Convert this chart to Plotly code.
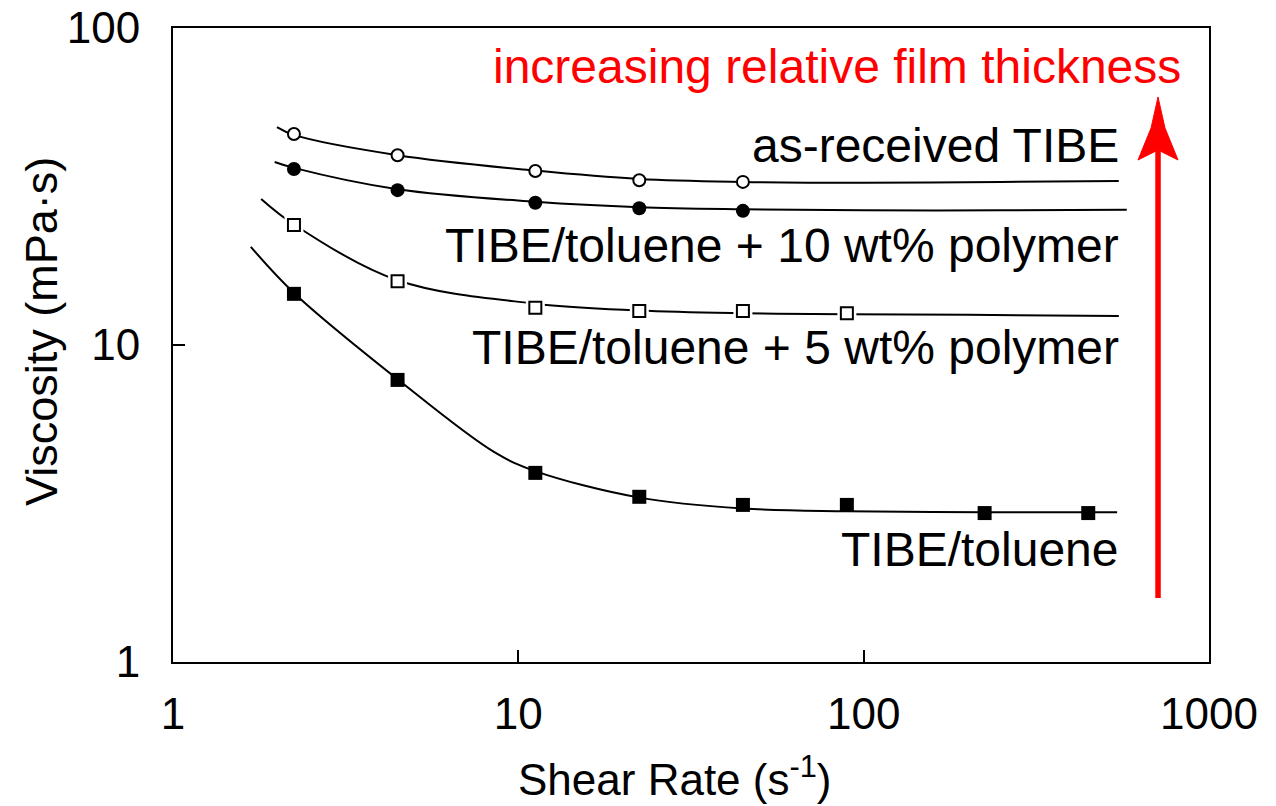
import plotly.graph_objects as go

# Shear rates (s^-1) of the measured points
shear_rate = [2.24, 4.47, 11.2, 22.4, 44.7, 89.4, 224, 447]

# Measured viscosities (mPa·s)
visc_as_received = [46.3, 39.7, 35.4, 33.1, 32.7]
visc_10wt = [35.9, 30.8, 28.1, 27.0, 26.5]
visc_5wt = [23.9, 15.9, 13.1, 12.8, 12.8, 12.6]
visc_toluene = [14.5, 7.76, 3.95, 3.32, 3.13, 3.13, 2.95, 2.95]

# Fitted curves (shear rate, viscosity)
fit_as_received_x = [2.0, 2.24, 4.47, 11.2, 22.4, 44.7, 100, 250, 548]
fit_as_received_y = [48.7, 46.0, 39.7, 35.5, 33.4, 32.7, 32.5, 32.7, 32.9]
fit_10wt_x = [1.97, 2.24, 4.47, 11.2, 22.4, 44.7, 100, 250, 578]
fit_10wt_y = [37.8, 36.2, 31.0, 28.3, 27.2, 26.8, 26.6, 26.6, 26.7]
fit_5wt_x = [1.80, 2.24, 4.47, 11.2, 22.4, 44.7, 89.4, 200, 548]
fit_5wt_y = [28.9, 24.0, 16.0, 13.5, 12.85, 12.6, 12.5, 12.45, 12.35]
fit_toluene_x = [1.68, 2.24, 4.47, 8.5, 11.2, 22.4, 44.7, 89.4, 224, 542]
fit_toluene_y = [20.4, 14.6, 7.8, 4.6, 4.0, 3.3, 3.05, 2.99, 2.97, 2.97]

x_ticks = [1, 10, 100, 1000]
y_ticks = [1, 10, 100]

FONT = "Liberation Sans, Arial, sans-serif"

fig = go.Figure()

# fitted curves
for fx, fy in [(fit_as_received_x, fit_as_received_y),
               (fit_10wt_x, fit_10wt_y),
               (fit_5wt_x, fit_5wt_y),
               (fit_toluene_x, fit_toluene_y)]:
    fig.add_trace(go.Scatter(
        x=fx, y=fy, mode="lines",
        line=dict(color="black", width=2, shape="spline", smoothing=1.0),
        hoverinfo="skip", showlegend=False))

# white halo behind the open squares
fig.add_trace(go.Scatter(
    x=shear_rate[:len(visc_5wt)], y=visc_5wt, mode="markers",
    marker=dict(symbol="square", size=19, color="white",
                line=dict(width=0)),
    hoverinfo="skip", showlegend=False))

# measured points
fig.add_trace(go.Scatter(
    x=shear_rate[:len(visc_as_received)], y=visc_as_received, mode="markers",
    name="as-received TIBE",
    marker=dict(symbol="circle", size=12, color="white",
                line=dict(color="black", width=2))))
fig.add_trace(go.Scatter(
    x=shear_rate[:len(visc_10wt)], y=visc_10wt, mode="markers",
    name="TIBE/toluene + 10 wt% polymer",
    marker=dict(symbol="circle", size=14, color="black",
                line=dict(width=0))))
fig.add_trace(go.Scatter(
    x=shear_rate[:len(visc_5wt)], y=visc_5wt, mode="markers",
    name="TIBE/toluene + 5 wt% polymer",
    marker=dict(symbol="square", size=12, color="white",
                line=dict(color="black", width=2))))
fig.add_trace(go.Scatter(
    x=shear_rate[:len(visc_toluene)], y=visc_toluene, mode="markers",
    name="TIBE/toluene",
    marker=dict(symbol="square", size=14, color="black",
                line=dict(width=0))))

axis_common = dict(
    type="log", showgrid=False, zeroline=False, automargin=False,
    showline=True, linecolor="black", linewidth=2, mirror=True,
    ticks="inside", ticklen=12, tickwidth=1.5, tickcolor="black",
    tickfont=dict(family=FONT, size=44, color="black"),
)

fig.update_xaxes(**axis_common, range=[0, 3], tickvals=x_ticks,
                 ticktext=[str(v) for v in x_ticks], ticklabelstandoff=12)
fig.update_yaxes(**axis_common, range=[0, 2], tickvals=y_ticks,
                 ticktext=[str(v) for v in y_ticks], ticklabelstandoff=22)

# curve labels
labels = [
    ("as-received TIBE", 0.8139),
    ("TIBE/toluene + 10 wt% polymer", 0.6562),
    ("TIBE/toluene + 5 wt% polymer", 0.4953),
    ("TIBE/toluene", 0.1782),
]
for text, ypos in labels:
    fig.add_annotation(x=0.9151, y=ypos, xref="paper", yref="paper",
                       text=text, showarrow=False, xanchor="right",
                       yanchor="middle",
                       font=dict(family=FONT, size=48, color="black"))

fig.add_annotation(x=0.9749, y=0.940, xref="paper", yref="paper",
                   text="increasing relative film thickness", showarrow=False,
                   xanchor="right", yanchor="middle",
                   font=dict(family=FONT, size=48, color="#ff0000"))

# axis titles
fig.add_annotation(x=0.4846, y=-0.181, xref="paper", yref="paper",
                   text="Shear Rate (s<sup>-1</sup>)", showarrow=False,
                   xanchor="center", yanchor="middle",
                   font=dict(family=FONT, size=44, color="black"))
fig.add_annotation(x=-0.1274, y=0.5205, xref="paper", yref="paper",
                   text="Viscosity (mPa·s)", showarrow=False, textangle=-90,
                   xanchor="center", yanchor="middle",
                   font=dict(family=FONT, size=45, color="black"))

# red arrow: shaft and stealth head
fig.add_shape(type="line", xref="paper", yref="paper",
              x0=0.9508, x1=0.9508, y0=0.101, y1=0.81,
              line=dict(color="#ff0000", width=5.5))
fig.add_shape(type="path", xref="paper", yref="paper",
              path=("M 0.9508 0.8912 L 0.9575 0.8423 L 0.9701 0.7918 "
                    "L 0.9508 0.8076 L 0.9315 0.7918 L 0.9441 0.8423 Z"),
              fillcolor="#ff0000", line=dict(color="#ff0000", width=1))

fig.update_layout(
    width=1276, height=806,
    margin=dict(l=173, r=67, t=28, b=144),
    plot_bgcolor="white", paper_bgcolor="white",
    showlegend=False,
    font=dict(family=FONT, color="black"),
)

fig.write_html("out.html")
